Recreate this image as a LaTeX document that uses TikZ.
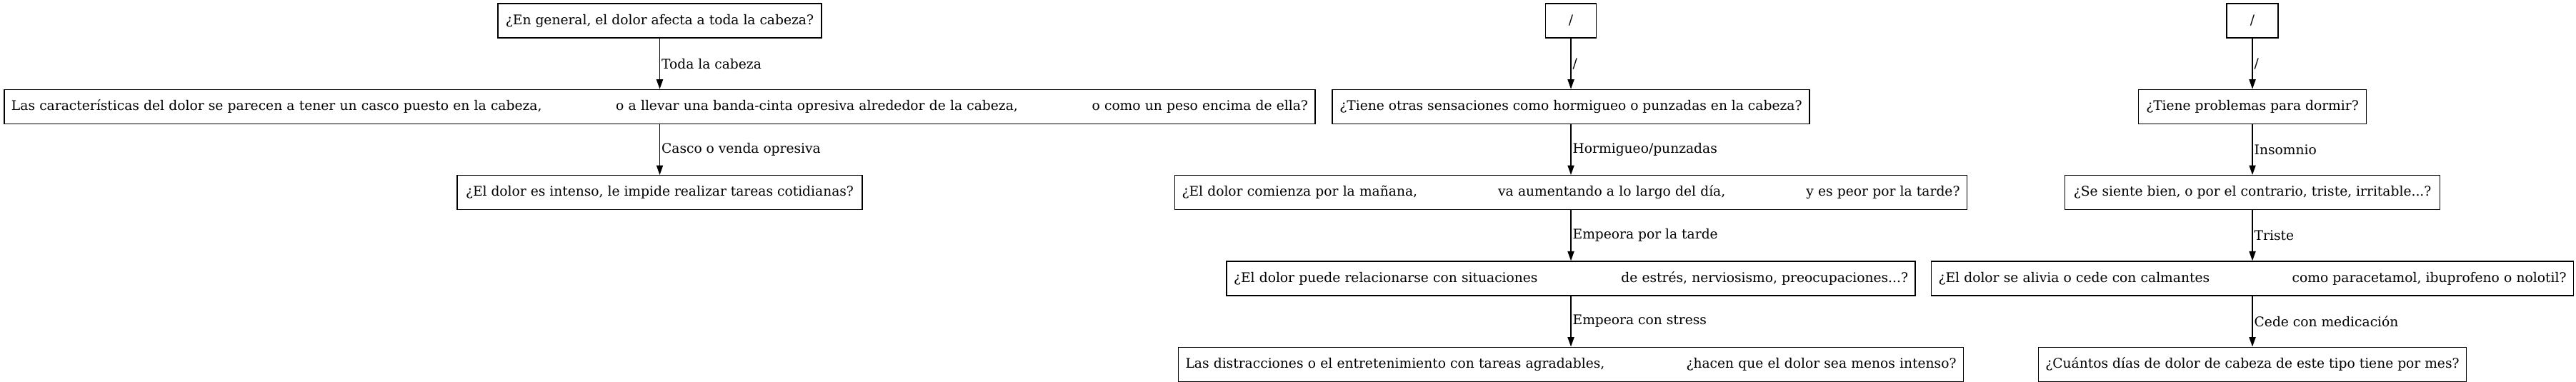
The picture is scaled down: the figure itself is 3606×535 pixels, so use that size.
\documentclass[tikz,border=0pt]{standalone}
\usepackage{fontspec}
\setmainfont{DejaVu Serif}
\usepackage{tikz}
\usetikzlibrary{arrows.meta, positioning}
\tikzstyle{qbox} = [rectangle, draw=black, line width=0.65pt, minimum height=24pt, inner xsep=5pt, inner ysep=2pt, text centered, font=\fontsize{9.33}{11}\selectfont]
\tikzstyle{lbl} = [anchor=west, inner xsep=1pt, inner ysep=0pt, font=\fontsize{9.33}{11}\selectfont]
\tikzstyle{arrow} = [line width=0.65pt, -{Triangle[length=6.7pt, width=4.6pt]}]

\begin{document}
\begin{tikzpicture}[x=0.5pt, y=-0.5pt, node distance=35.5pt]
    \useasboundingbox (0,0) rectangle (3606,535);
    % left column
    \node (gen) [qbox, minimum width=226.5pt] at (923.5,29) {¿En general, el dolor afecta a toda la cabeza?};
    \node (carac) [qbox, text width=907.5pt, below=of gen] {Las características del dolor se parecen a tener un casco puesto en la cabeza,\hfill o a llevar una banda-cinta opresiva alrededor de la cabeza,\hfill o como un peso encima de ella?};
    \node (intenso) [qbox, minimum width=283.5pt, below=of carac] {¿El dolor es intenso, le impide realizar tareas cotidianas?};
    % middle column
    \node (bar1) [qbox, minimum width=35.5pt] at (2199,29) {/};
    \node (sens) [qbox, minimum width=334pt, below=of bar1] {¿Tiene otras sensaciones como hormigueo o punzadas en la cabeza?};
    \node (manana) [qbox, text width=544.5pt, below=of sens] {¿El dolor comienza por la mañana,\hfill va aumentando a lo largo del día,\hfill y es peor por la tarde?};
    \node (estres) [qbox, text width=472pt, below=of manana] {¿El dolor puede relacionarse con situaciones\hfill de estrés, nerviosismo, preocupaciones...?};
    \node (distr) [qbox, text width=539.5pt, below=of estres] {Las distracciones o el entretenimiento con tareas agradables,\hfill ¿hacen que el dolor sea menos intenso?};
    % right column
    \node (bar2) [qbox, minimum width=36pt] at (3153,29) {/};
    \node (dormir) [qbox, minimum width=159.5pt, below=of bar2] {¿Tiene problemas para dormir?};
    \node (animo) [qbox, minimum width=262.5pt, below=of dormir] {¿Se siente bien, o por el contrario, triste, irritable...?};
    \node (calm) [qbox, text width=439.5pt, below=of animo] {¿El dolor se alivia o cede con calmantes\hfill como paracetamol, ibuprofeno o nolotil?};
    \node (dias) [qbox, minimum width=299.5pt, below=of calm] {¿Cuántos días de dolor de cabeza de este tipo tiene por mes?};

    \draw [arrow] (gen) -- node[lbl] {Toda la cabeza} (carac);
    \draw [arrow] (carac) -- node[lbl] {Casco o venda opresiva} (intenso);
    \draw [arrow] (bar1) -- node[lbl] {/} (sens);
    \draw [arrow] (sens) -- node[lbl] {Hormigueo/punzadas} (manana);
    \draw [arrow] (manana) -- node[lbl] {Empeora por la tarde} (estres);
    \draw [arrow] (estres) -- node[lbl] {Empeora con stress} (distr);
    \draw [arrow] (bar2) -- node[lbl] {/} (dormir);
    \draw [arrow] (dormir) -- node[lbl] {Insomnio} (animo);
    \draw [arrow] (animo) -- node[lbl] {Triste} (calm);
    \draw [arrow] (calm) -- node[lbl] {Cede con medicación} (dias);
\end{tikzpicture}
\end{document}
